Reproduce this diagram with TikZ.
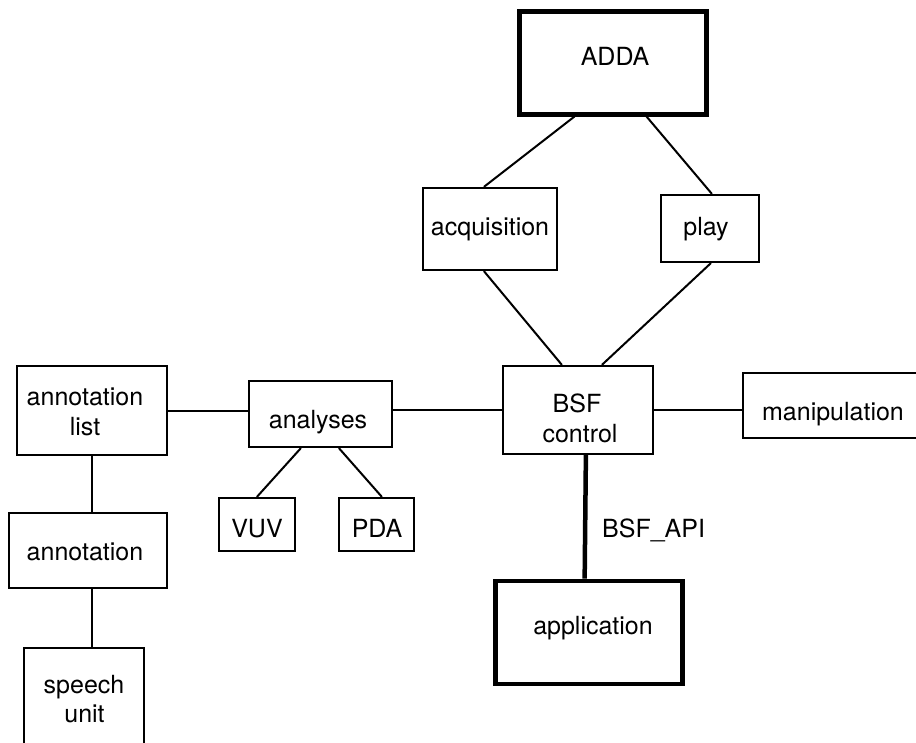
\documentclass[tikz,border=0pt]{standalone}
\usepackage{fontspec}
\setmainfont{TeX Gyre Heros}
\usetikzlibrary{calc}
\begin{document}
\begin{tikzpicture}[x=1pt,y=-1pt,
  box/.style={draw, line width=2.2pt, inner sep=0pt},
  heavybox/.style={draw, line width=5pt, inner sep=0pt},
  txt/.style={anchor=base, inner sep=0pt, font=\fontsize{25}{30}\selectfont},
  link/.style={line width=2pt},
  apilink/.style={line width=4.5pt}]
\fill[white] (0,0) rectangle (916,742);
\useasboundingbox (0,0) rectangle (916,742);

% boxes
\node[heavybox, minimum width=186.5pt, minimum height=103pt] (adda) at (613,62.5) {};
\node[box, minimum width=134pt, minimum height=82pt] (acq) at (490,229) {};
\node[box, minimum width=98pt, minimum height=67pt] (play) at (710,228.5) {};
\node[box, minimum width=150pt, minimum height=88pt] (bsf) at (578,410) {};
\node[box, minimum width=182pt, minimum height=65pt] (manip) at (834,405.5) {};
\node[box, minimum width=143pt, minimum height=66pt] (anl) at (320.5,414) {};
\node[box, minimum width=150pt, minimum height=89pt] (alist) at (92,410.5) {};
\node[box, minimum width=76pt, minimum height=53pt] (vuv) at (257,524.5) {};
\node[box, minimum width=75pt, minimum height=53pt] (pda) at (376.5,524.5) {};
\node[box, minimum width=158pt, minimum height=75pt] (annot) at (88,550.5) {};
\node[box, minimum width=120pt, minimum height=112pt] (speech) at (84,704) {};
\node[heavybox, line width=4.7pt, minimum width=187pt, minimum height=103pt] (app) at (589,632.5) {};

% labels
\node[txt] (adda-t) at (615,65) {ADDA};
\node[txt] (acq-t) at (490,235) {acquisition};
\node[txt] (play-t) at (706,235) {play};
\node[txt] (bsf-t1) at (577,412) {BSF};
\node[txt] (bsf-t2) at (580,442) {control};
\node[txt] (manip-t) at (833,420) {manipulation};
\node[txt] (anl-t) at (318,428) {analyses};
\node[txt] (alist-t1) at (85,405) {annotation};
\node[txt] (alist-t2) at (85,435) {list};
\node[txt] (vuv-t) at (257,537) {VUV};
\node[txt] (pda-t) at (377,537) {PDA};
\node[txt] (annot-t) at (85,560) {annotation};
\node[txt] (speech-t1) at (84,693) {speech};
\node[txt] (speech-t2) at (84.5,722) {unit};
\node[txt] (app-t) at (593,634) {application};
\node[txt, anchor=base west] (api-t) at (602,537) {BSF\_API};

% connectors
\draw[link] ([xshift=57.25pt]adda.south west) -- ([xshift=62pt]acq.north west);
\draw[link] ([xshift=129.25pt]adda.south west) -- ([xshift=52pt]play.north west);
\draw[link] ([xshift=62pt]acq.south west) -- ([xshift=60pt]bsf.north west);
\draw[link] ([xshift=51pt]play.south west) -- ([xshift=100pt]bsf.north west);
\draw[link] (alist.east) -- (alist.east -| anl.west);
\draw[link] (bsf.west -| anl.east) -- (bsf.west);
\draw[link] (bsf.east) -- (bsf.east -| manip.west);
\draw[link] ([xshift=53pt]anl.south west) -- ([xshift=39pt]vuv.north west);
\draw[link] ([xshift=91pt]anl.south west) -- ([xshift=44pt]pda.north west);
\draw[link] (alist.south) -- (alist.south |- annot.north);
\draw[link] ([xshift=84pt]annot.south west) -- ([xshift=69pt]speech.north west);
\draw[apilink] ([xshift=84pt]bsf.south west) -- ([xshift=91.5pt]app.north west);
\end{tikzpicture}
\end{document}
